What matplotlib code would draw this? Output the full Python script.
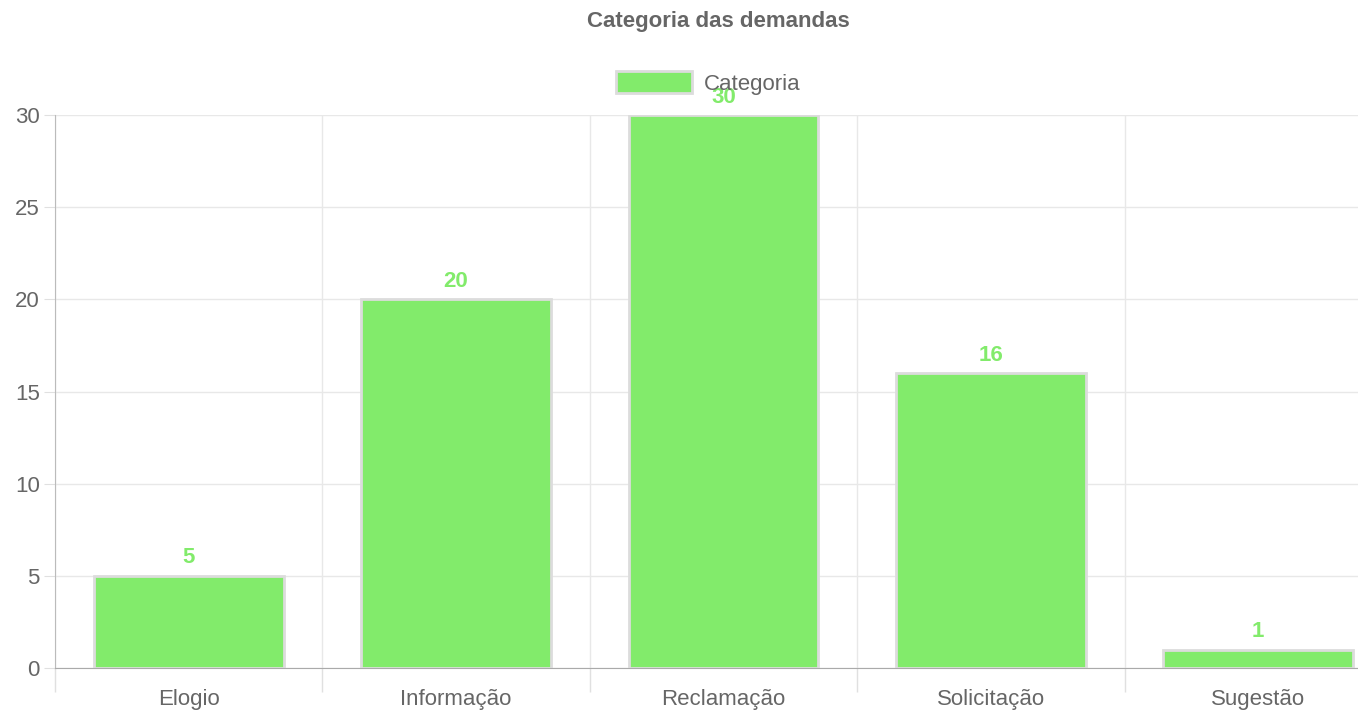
import matplotlib
matplotlib.use("Agg")
from matplotlib import pyplot as plt
from matplotlib.patches import Patch

plt.rcParams['font.family'] = ['Liberation Sans', 'DejaVu Sans']

categories = ['Elogio', 'Informação', 'Reclamação', 'Solicitação', 'Sugestão']
values = [5, 20, 30, 16, 1]
yticks = [0, 5, 10, 15, 20, 25, 30]

GREEN = '#82eb6b'
EDGE = '#dcdcdc'
GREY = '#666666'
FS = 16


def main():
    fig = plt.figure(figsize=(13.58, 7.11), dpi=100)
    ax = fig.add_axes([55 / 1358, 1 - 668 / 711, 1 - 55 / 1358, (668 - 115) / 711])

    x = range(len(categories))
    ax.bar(x, values, width=0.71, color=GREEN, edgecolor=EDGE, linewidth=2, zorder=3)
    for i, v in zip(x, values):
        ax.text(i, v + 0.4, str(v), ha='center', va='bottom', color=GREEN,
                fontsize=FS, fontweight='bold', zorder=4)

    ax.set_yticks(yticks)
    ax.set_xticks([i + 0.5 for i in range(-1, 5)], minor=False)
    ax.set_xticklabels([])
    ax.set_xticks(list(x), minor=True)
    ax.set_xticklabels(categories, minor=True)
    ax.set_xlim(-0.5, 4.5 - 34 / 267.5)
    ax.set_ylim(0, 30)
    ax.tick_params(axis='x', which='major', length=17, color='#e0e0e0', width=1)
    ax.tick_params(axis='x', which='minor', length=0, pad=15, labelsize=FS, labelcolor=GREY)
    ax.tick_params(axis='y', length=8, color='#e0e0e0', labelsize=FS, labelcolor=GREY, pad=3)

    ax.grid(True, which='major', color='#e8e8e8', linewidth=1, zorder=0)
    for s in ['top', 'right']:
        ax.spines[s].set_visible(False)
    ax.spines['left'].set_color('#bbbbbb')
    ax.spines['bottom'].set_color('#aaaaaa')

    fig.text(718 / 1358, 1 - 22 / 711, 'Categoria das demandas', ha='center', va='center',
             fontsize=FS, fontweight='bold', color=GREY)
    handle = Patch(facecolor=GREEN, edgecolor=EDGE, linewidth=2, label='Categoria')
    fig.legend(handles=[handle], loc='center', bbox_to_anchor=(708 / 1358, 1 - 83 / 711),
               frameon=False, fontsize=FS, labelcolor=GREY, handlelength=3.45,
               handleheight=1.08, handletextpad=0.5)

    fig.savefig('out.png', dpi=100)


if __name__ == "__main__":
    main()
